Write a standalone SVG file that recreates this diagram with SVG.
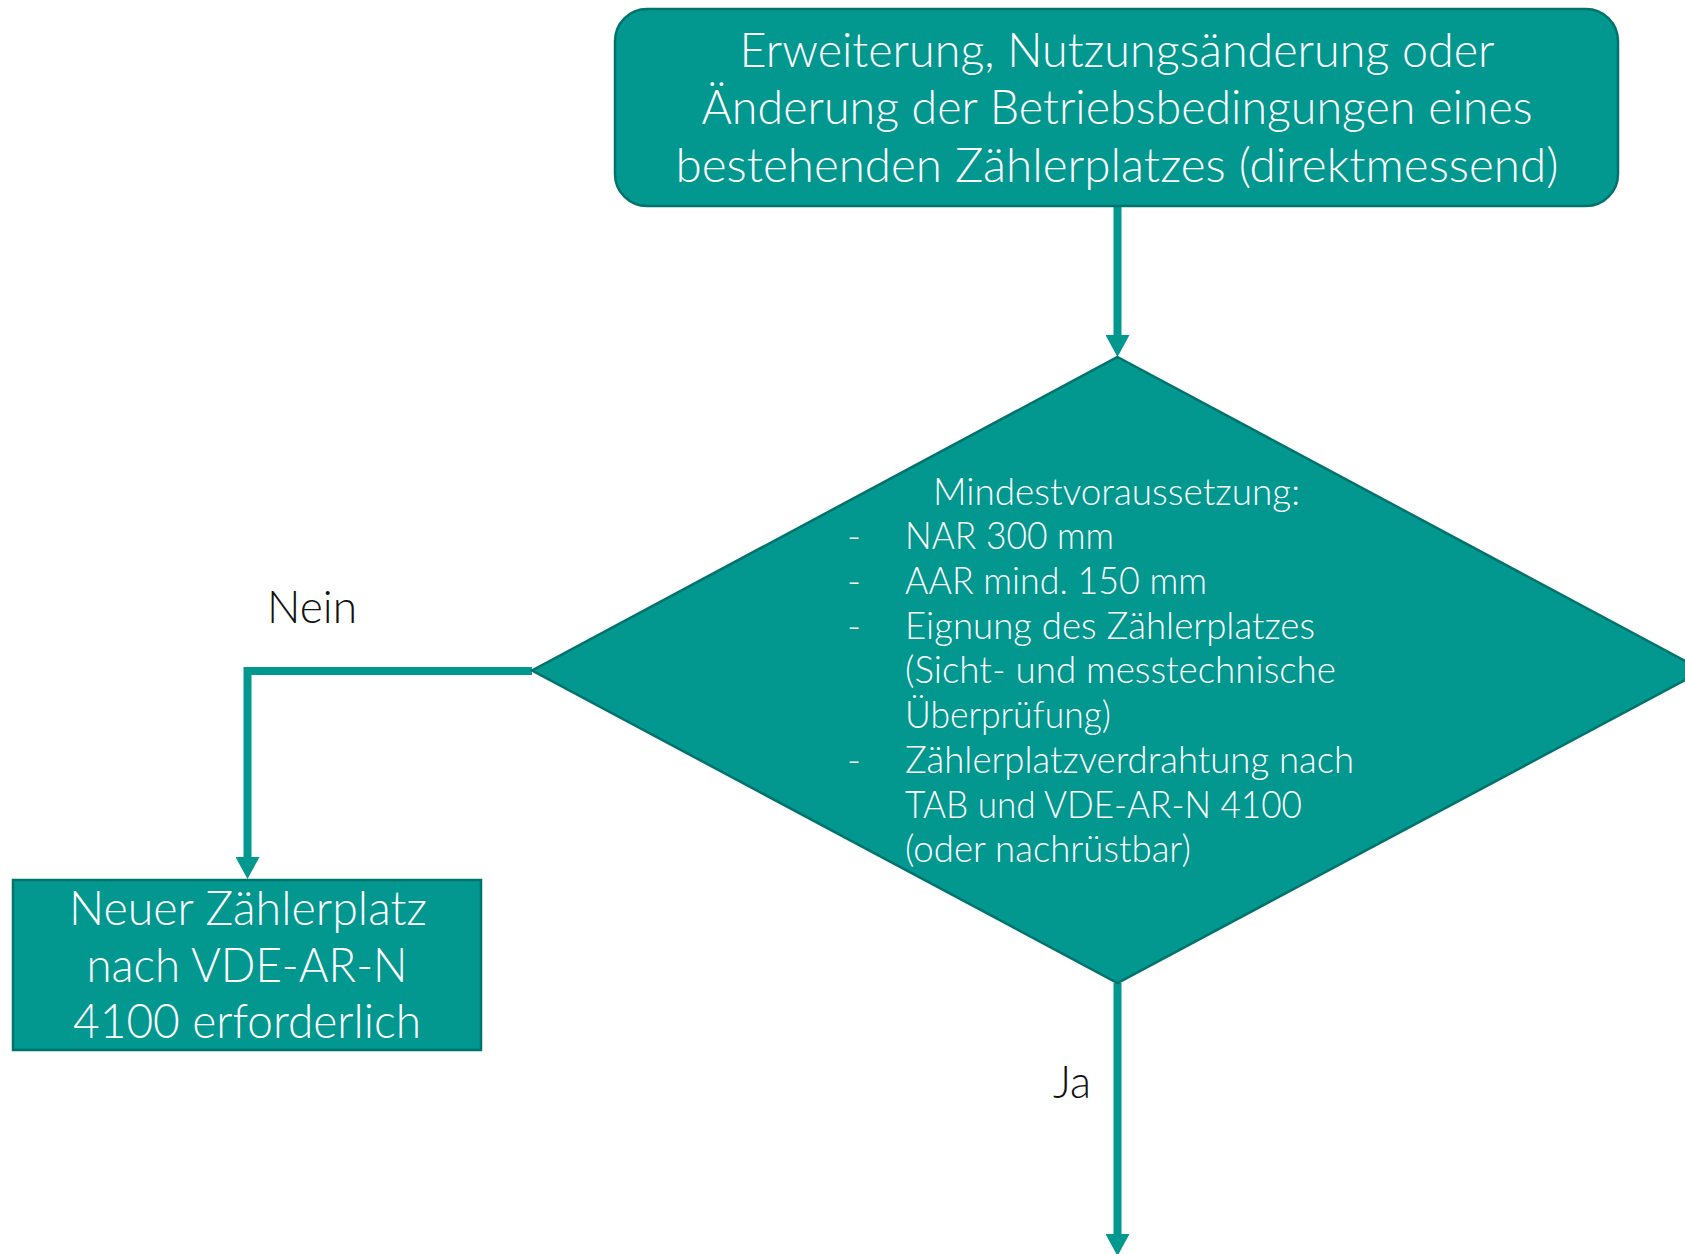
<svg xmlns="http://www.w3.org/2000/svg" width="1685" height="1254" viewBox="0 0 1685 1254">
  <style>
    .shape { fill: #02978F; stroke: #01736D; stroke-width: 2.5; }
    .conn { fill: none; stroke: #02978F; stroke-width: 8; }
    .t { font-family: Lato, Roboto, "Liberation Sans", sans-serif; font-weight: 300; fill: #ffffff; }
    .lbl { font-family: Lato, Roboto, "Liberation Sans", sans-serif; font-weight: 300; fill: #111111; font-size: 46px; }
    .big { font-size: 47px; }
    .mid { font-size: 38px; }
  </style>
  <defs>
    <marker id="arrow" markerUnits="userSpaceOnUse" markerWidth="22" markerHeight="24" refX="0" refY="12" orient="auto">
      <path d="M0,0 L22,12 L0,24 Z" fill="#02978F"/>
    </marker>
  </defs>
  <rect width="1685" height="1254" fill="#ffffff"/>

  <!-- connectors -->
  <g id="connectors">
    <path class="conn" d="M1117.5,206 V335" marker-end="url(#arrow)"/>
    <path class="conn" d="M532,671 H247.5 V857" marker-end="url(#arrow)"/>
    <path class="conn" d="M1117.5,983 V1234" marker-end="url(#arrow)"/>
    <text class="lbl" x="267" y="623" textLength="90" lengthAdjust="spacingAndGlyphs">Nein</text>
    <text class="lbl" x="1053" y="1098" textLength="38" lengthAdjust="spacingAndGlyphs">Ja</text>
  </g>

  <!-- start node -->
  <g id="start">
    <rect class="shape" x="615" y="9" width="1003" height="197" rx="32" ry="32"/>
    <text class="t big" text-anchor="middle">
      <tspan x="1117" y="67" textLength="755" lengthAdjust="spacingAndGlyphs">Erweiterung, Nutzungsänderung oder</tspan>
    </text>
    <text class="t big" x="1117" y="124" text-anchor="middle" textLength="831" lengthAdjust="spacingAndGlyphs">Änderung der Betriebsbedingungen eines</text>
    <text class="t big" x="1117" y="182" text-anchor="middle" textLength="883" lengthAdjust="spacingAndGlyphs">bestehenden Zählerplatzes (direktmessend)</text>
  </g>

  <!-- decision node -->
  <g id="decision">
    <polygon class="shape" points="1117.5,357 1703,670.5 1117.5,983 532,670.5"/>
    <text class="t mid" x="933" y="505" textLength="367" lengthAdjust="spacingAndGlyphs">Mindestvoraussetzung:</text>
    <text class="t mid" x="847" y="549">-</text>
    <text class="t mid" x="905" y="549" textLength="209" lengthAdjust="spacingAndGlyphs">NAR 300 mm</text>
    <text class="t mid" x="847" y="594">-</text>
    <text class="t mid" x="905" y="594" textLength="302" lengthAdjust="spacingAndGlyphs">AAR mind. 150 mm</text>
    <text class="t mid" x="847" y="639">-</text>
    <text class="t mid" x="905" y="639" textLength="410" lengthAdjust="spacingAndGlyphs">Eignung des Zählerplatzes</text>
    <text class="t mid" x="905" y="683" textLength="431" lengthAdjust="spacingAndGlyphs">(Sicht- und messtechnische</text>
    <text class="t mid" x="905" y="728" textLength="206" lengthAdjust="spacingAndGlyphs">Überprüfung)</text>
    <text class="t mid" x="847" y="773">-</text>
    <text class="t mid" x="905" y="773" textLength="449" lengthAdjust="spacingAndGlyphs">Zählerplatzverdrahtung nach</text>
    <text class="t mid" x="905" y="818" textLength="397" lengthAdjust="spacingAndGlyphs">TAB und VDE-AR-N 4100</text>
    <text class="t mid" x="905" y="862" textLength="286" lengthAdjust="spacingAndGlyphs">(oder nachrüstbar)</text>
  </g>

  <!-- outcome node: new meter place -->
  <g id="new-meter">
    <rect class="shape" x="13" y="880" width="468" height="170"/>
    <text class="t big" x="248" y="925" text-anchor="middle" textLength="358" lengthAdjust="spacingAndGlyphs">Neuer Zählerplatz</text>
    <text class="t big" x="247" y="982" text-anchor="middle" textLength="321" lengthAdjust="spacingAndGlyphs">nach VDE-AR-N</text>
    <text class="t big" x="247" y="1038" text-anchor="middle" textLength="348" lengthAdjust="spacingAndGlyphs">4100 erforderlich</text>
  </g>
</svg>
